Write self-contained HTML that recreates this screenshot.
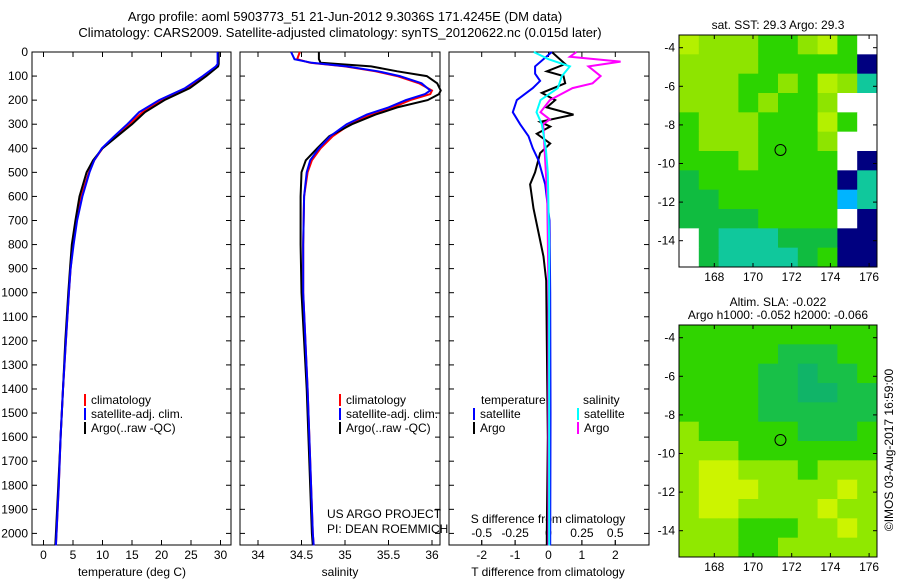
<!DOCTYPE html>
<html><head><meta charset="utf-8"><style>
body{margin:0;background:#fff}
svg{display:block;font-family:"Liberation Sans",sans-serif;font-size:12px}
</style></head><body>
<svg id="c" width="900" height="580" viewBox="0 0 900 580" xmlns="http://www.w3.org/2000/svg">
<text x="345" y="21" text-anchor="middle" font-size="13">Argo profile: aoml 5903773_51 21-Jun-2012 9.3036S 171.4245E (DM data)</text>
<text x="340" y="37" text-anchor="middle" font-size="13">Climatology: CARS2009. Satellite-adjusted climatology: synTS_20120622.nc (0.015d later)</text>
<g id="g"></g>
</svg>
<script>
// ---------- data ----------
const tDepth=[0,50,60,100,150,200,250,300,350,400,450,500,600,700,800,900,1000,1200,1400,1600,1800,2000,2050];
const tClim=[29.6,29.6,29.3,27.3,24.3,20.0,16.8,14.5,12.2,10.0,8.6,7.7,6.4,5.6,5.0,4.6,4.3,3.8,3.3,2.9,2.6,2.2,2.1];
const tSat=[29.5,29.5,29.2,27.0,24.0,19.6,16.2,14.2,12.0,9.9,8.6,7.8,6.6,5.7,5.1,4.6,4.3,3.8,3.3,2.9,2.6,2.2,2.1];
const tArgo=[29.7,29.7,29.6,27.6,24.8,20.5,17.2,15.0,12.5,10.0,8.4,7.3,6.1,5.4,4.8,4.5,4.2,3.7,3.3,2.9,2.5,2.1,2.0];
const sDepth=[0,30,45,60,80,100,130,160,175,200,230,260,300,350,400,450,500,600,800,1000,1400,2000,2050];
const sClim=[34.48,34.45,34.6,35.0,35.35,35.6,35.85,36.0,35.98,35.75,35.55,35.3,35.06,34.86,34.72,34.62,34.57,34.53,34.52,34.52,34.57,34.63,34.64];
const sSat=[34.38,34.42,34.62,35.02,35.38,35.63,35.88,35.98,35.92,35.7,35.5,35.25,35.02,34.83,34.7,34.6,34.56,34.53,34.52,34.52,34.57,34.63,34.64];
const sArgo=[34.7,34.7,34.72,35.3,35.6,35.94,36.06,36.1,36.08,35.95,35.6,35.35,35.08,34.82,34.68,34.55,34.5,34.49,34.49,34.5,34.56,34.62,34.63];
const dtSatDepth=[0,60,90,120,150,200,250,300,350,400,450,550,700,1000,1500,2050];
const dtSat=[0.1,-0.4,-0.4,-0.25,-0.47,-0.95,-1.07,-0.85,-0.6,-0.47,-0.3,-0.1,0.03,0.05,0.06,0.05];
const dtArgoDepth=[0,50,80,100,130,170,200,230,260,290,310,340,380,420,500,550,650,750,850,950,1200,1600,2000,2050];
const dtArgo=[0.1,0.5,-0.05,0.45,0.5,-0.2,0.2,-0.05,0.75,-0.25,0.05,-0.35,0.05,-0.25,-0.4,-0.55,-0.45,-0.3,-0.15,-0.07,-0.05,-0.02,-0.05,-0.05];
const dsSatDepth=[0,30,60,100,150,200,250,300,400,500,800,2050];
const dsSat=[-0.11,0,0.16,0.1,0.07,-0.06,-0.09,-0.05,-0.02,-0.005,0.005,0.005];
const dsArgoDepth=[0,20,40,60,100,130,150,200,250,280,300,400,600,1000,2050];
const dsArgo=[0.21,0.16,0.54,0.3,0.39,0.33,0.18,0.01,-0.06,0.01,-0.04,-0.03,-0.01,0,0];
const depthTicks=[0,100,200,300,400,500,600,700,800,900,1000,1100,1200,1300,1400,1500,1600,1700,1800,1900,2000];
const tempTicks=[0,5,10,15,20,25,30];
const salTicks=[34,34.5,35,35.5,36];
const salTickLabels=["34","34.5","35","35.5","36"];
const tdTicks=[-2,-1,0,1,2];
const sdTicks=[-0.5,-0.25,0,0.25,0.5];
const latTicks=[-4,-6,-8,-10,-12,-14];
const lonTicks=[168,170,172,174,176];
const sstGrid=["YLLLGGLYGW","LLLLGGGGGN","LLLGGLGYLT","LLLGLGGLWW","GLLLGGGYGW","GLLLGGGLWW","GGGLGGGGWN","DGGGGGGGNT","DDGGGGGGBT","DDDDGGGGWN","WDTTTDDDNN","WDTTTTDGNN"];
const slaGrid=["GGGGGGGGGG","GGGGGDDDGG","GGGGDDTDDG","GGGGDDTTDD","GGGGDDDDDD","LGGGGGDDDG","LLLGGGGGGG","LYYLLLGLLL","LYYYLLLLYL","LYYLLLLYLL","LLLGGGLLYL","LLLGGLLLLL"];
const argoLon=171.42, argoLat=-9.30;
// ---------- helpers ----------
const NS="http://www.w3.org/2000/svg";
const root=document.getElementById('g');
function el(tag,at,parent){const e=document.createElementNS(NS,tag);for(const k in at)e.setAttribute(k,at[k]);(parent||root).appendChild(e);return e;}
function txt(x,y,s,anchor,parent,size){const t=el('text',{x:x,y:y,'text-anchor':anchor||'start'},parent);if(size)t.setAttribute('font-size',size);t.textContent=s;return t;}
const Y0=52,Y1=545;
const yD=d=>Y0+d*0.2407;
const xT=v=>43.5+v*5.9;
const xS=v=>258+(v-34)*87;
const xDT=v=>548.5+v*33.4;
const xDS=v=>548.5+v*133.5;
function line(vals,deps,xf,color,name,w){
  const p=vals.map((v,i)=>xf(v).toFixed(1)+','+yD(deps[i]).toFixed(1)).join(' ');
  const e=el('polyline',{points:p,fill:'none',stroke:color,'stroke-width':w||2});
  
  
}
function panel(x0,x1,name){
  const g=el('g',{});
  
  
  el('rect',{x:x0,y:Y0,width:x1-x0,height:Y1-Y0,fill:'none',stroke:'#000','stroke-width':1},g);
  depthTicks.forEach(d=>{el('line',{x1:x0,x2:x0+5,y1:yD(d),y2:yD(d),stroke:'#000'},g);el('line',{x1:x1-5,x2:x1,y1:yD(d),y2:yD(d),stroke:'#000'},g);});
  return g;
}
function xticks(g,ticks,labels,xf,yl){
  ticks.forEach((t,i)=>{const x=xf(t);el('line',{x1:x,x2:x,y1:Y1,y2:Y1-5,stroke:'#000'},g);el('line',{x1:x,x2:x,y1:Y0,y2:Y0+5,stroke:'#000'},g);txt(x,yl,labels[i],'middle',g);});
}
function legend(g,x,y,items){
  items.forEach((it,i)=>{el('rect',{x:x,y:y+i*14-10,width:2,height:12,fill:it[1]},g);txt(x+7,y+i*14,it[0],'start',g);});
}
// ---------- panel 1 temperature ----------
const p1=panel(32,231,'temperature-panel');
depthTicks.forEach(d=>txt(28,yD(d)+4,String(d),'end',p1));
xticks(p1,tempTicks,tempTicks.map(String),xT,559);
txt(132,576,'temperature (deg C)','middle',p1);
line(tClim,tDepth,xT,'#ff0000','temp-climatology-line');
line(tArgo,tDepth,xT,'#000000','temp-argo-line');
line(tSat,tDepth,xT,'#0000ff','temp-satellite-line');
legend(p1,84,404,[['climatology','#f00'],['satellite-adj. clim.','#00f'],['Argo(..raw -QC)','#000']]);
// ---------- panel 2 salinity ----------
const p2=panel(240,440,'salinity-panel');
xticks(p2,salTicks,salTickLabels,xS,559);
txt(340,576,'salinity','middle',p2);
line(sClim,sDepth,xS,'#ff0000','sal-climatology-line');
line(sArgo,sDepth,xS,'#000000','sal-argo-line');
line(sSat,sDepth,xS,'#0000ff','sal-satellite-line');
legend(p2,339,404,[['climatology','#f00'],['satellite-adj. clim.','#00f'],['Argo(..raw -QC)','#000']]);
txt(327,518,'US ARGO PROJECT','start',p2);
txt(327,533,'PI: DEAN ROEMMICH','start',p2);
// ---------- panel 3 differences ----------
const p3=panel(449,649,'difference-panel');
xticks(p3,tdTicks,tdTicks.map(String),xDT,559);
txt(548,576,'T difference from climatology','middle',p3);
sdTicks.forEach(t=>{const x=xDS(t);el('line',{x1:x,x2:x,y1:Y1,y2:Y1-5,stroke:'#000'},p3);txt(x,537,String(t),'middle',p3);});
txt(548,523,'S difference from climatology','middle',p3);
line(dtArgo,dtArgoDepth,xDT,'#000000','tdiff-argo-line');
line(dtSat,dtSatDepth,xDT,'#0000ff','tdiff-satellite-line');
line(dsArgo,dsArgoDepth,xDS,'#ff00ff','sdiff-argo-line');
line(dsSat,dsSatDepth,xDS,'#00ffff','sdiff-satellite-line');
txt(481,404,'temperature','start',p3);txt(583,404,'salinity','start',p3);
legend(p3,473,418,[['satellite','#00f'],['Argo','#000']]);
legend(p3,577,418,[['satellite','#0ff'],['Argo','#f0f']]);
// ---------- maps ----------
const sstColors={Y:'#b4f000',L:'#8ee400',G:'#2cd400',D:'#10bc40',T:'#10c89c',W:'#ffffff',N:'#000080',B:'#00b4ff'};
const slaColors={Y:'#ccf400',L:'#90e800',G:'#30d400',D:'#18c048',T:'#10b468'};
function map(top,grid,colors,name,titles){
  const g=el('g',{});
  
  
  const L=679,R=877,B=top+232;
  const lx=v=>714.3+(v-168)*19.35, ly=v=>top+12.7+(-4-v)*19.3;
  const cw=(R-L)/10,ch=(B-top)/12;
  grid.forEach((row,r)=>row.split('').forEach((c,k)=>{el('rect',{x:L+k*cw,y:top+r*ch,width:cw+0.5,height:ch+0.5,fill:colors[c]},g);}));
  el('rect',{x:L,y:top,width:R-L,height:B-top,fill:'none',stroke:'#000'},g);
  latTicks.forEach(v=>{const y=ly(v);el('line',{x1:L,x2:L+4,y1:y,y2:y,stroke:'#000'},g);el('line',{x1:R-4,x2:R,y1:y,y2:y,stroke:'#000'},g);txt(675,y+4,String(v),'end',g);});
  lonTicks.forEach(v=>{const x=lx(v);el('line',{x1:x,x2:x,y1:B,y2:B-4,stroke:'#000'},g);el('line',{x1:x,x2:x,y1:top,y2:top+4,stroke:'#000'},g);txt(x,B+14,String(v),'middle',g);});
  const c=el('circle',{cx:lx(argoLon),cy:ly(argoLat),r:5.5,fill:'none',stroke:'#000'},g);
  
  
  titles.forEach((t,i)=>txt(778,top-(titles.length-1-i)*13-6,t,'middle',g));
}
map(35,sstGrid,sstColors,'sst-map',['sat. SST: 29.3 Argo: 29.3']);
map(325,slaGrid,slaColors,'sla-map',['Altim. SLA: -0.022','Argo h1000: -0.052 h2000: -0.066']);
const cr=txt(0,0,'©IMOS 03-Aug-2017 16:59:00','middle');
cr.setAttribute('transform','translate(893,450) rotate(-90)');


</script>
</body></html>
